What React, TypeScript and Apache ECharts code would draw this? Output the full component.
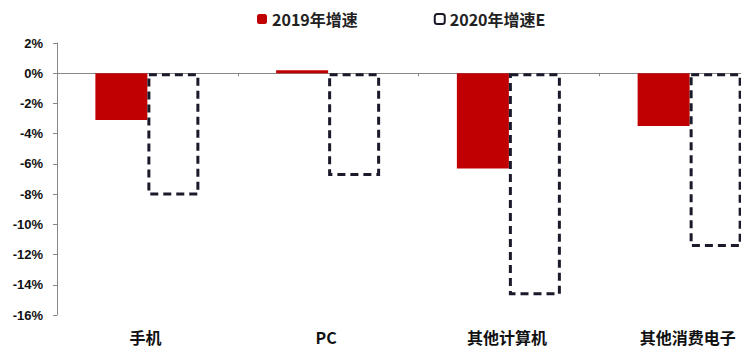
import React, { useEffect, useRef } from "react";
import * as echarts from "echarts";

const categories = ["手机", "PC", "其他计算机", "其他消费电子"];
const growth2019 = [-3.1, 0.2, -6.3, -3.5];
const growth2020E = [-8.1, -6.8, -14.7, -11.5];
const seriesNames = ["2019年增速", "2020年增速E"];

export default function App() {
  const ref = useRef<HTMLDivElement>(null);
  useEffect(() => {
    if (!ref.current) return;
    const chart = echarts.init(ref.current, null, { renderer: "svg" });
    chart.setOption({
      animation: false,
      backgroundColor: "#fff",
      legend: {
        left: 252,
        top: 6,
        itemWidth: 10,
        itemHeight: 10,
        itemGap: 76,
        textStyle: {
          fontFamily: "Noto Sans CJK SC",
          fontWeight: "bold",
          fontSize: 16,
          color: "#222",
        },
        data: seriesNames,
      },
      grid: { left: 57, right: 10, top: 43, bottom: 34, containLabel: false },
      xAxis: {
        type: "category",
        data: categories,
        axisLine: { onZero: true, lineStyle: { color: "#888", width: 1 } },
        axisTick: { show: true, length: 3, lineStyle: { color: "#888" } },
        axisLabel: { show: false },
      },
      yAxis: {
        type: "value",
        min: -16,
        max: 2,
        interval: 2,
        axisLine: { show: true, lineStyle: { color: "#888" } },
        axisTick: { show: true, length: 4, lineStyle: { color: "#888" } },
        splitLine: { show: false },
        axisLabel: {
          margin: 14,
          fontFamily: "Liberation Sans",
          fontWeight: "bold",
          fontSize: 13,
          color: "#111",
          formatter: (v: number) => `${v}%`,
        },
      },
      series: [
        {
          name: seriesNames[0],
          type: "bar",
          data: growth2019,
          barWidth: 52,
          barGap: "0%",
          itemStyle: { color: "#c00000" },
        },
        {
          name: seriesNames[1],
          type: "bar",
          data: growth2020E,
          barWidth: 52,
          barGap: "0%",
          itemStyle: {
            color: "#ffffff",
            borderColor: "#1a1a2a",
            borderWidth: 3,
            borderType: [8, 5],
          },
        },
      ],
    });
    chart.setOption({
      graphic: categories.map((c, i) => {
        const [x] = chart.convertToPixel({ xAxisIndex: 0, yAxisIndex: 0 }, [i, 0]) as number[];
        return {
          type: "text",
          x: x - 2,
          y: 337,
          style: {
            text: c,
            fontFamily: "Noto Sans CJK SC",
            fontWeight: "bold",
            fontSize: 16,
            fill: "#111",
            align: "center",
            verticalAlign: "middle",
          },
        };
      }),
    });
    return () => chart.dispose();
  }, []);
  return (
    <div
      style={{
        position: "fixed",
        left: 0,
        top: 0,
        width: 741,
        height: 349,
        overflow: "hidden",
        background: "#fff",
      }}
    >
      <div ref={ref} style={{ width: 790, height: 349 }} />
    </div>
  );
}
